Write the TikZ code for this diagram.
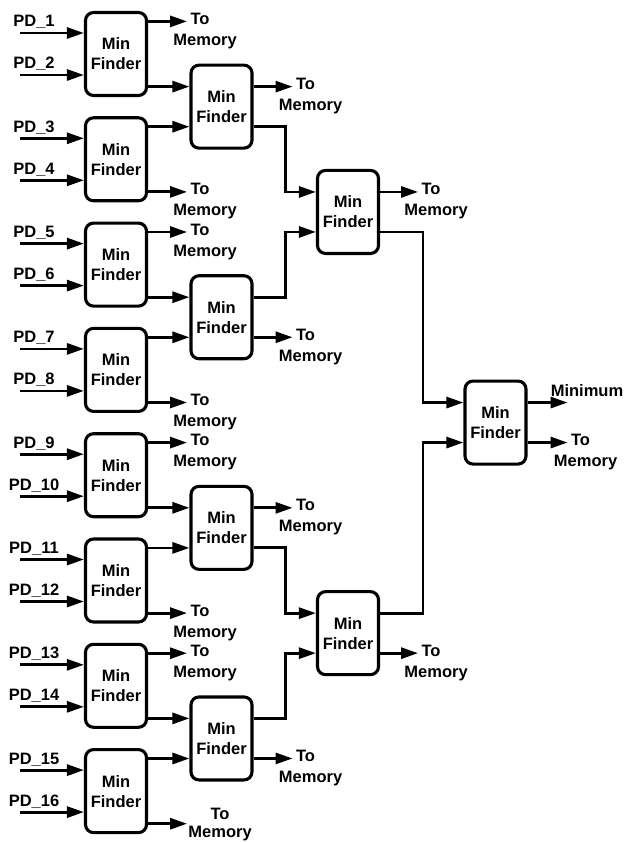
\documentclass[tikz,border=0pt]{standalone}
\usepackage{fontspec}
\setmainfont{Liberation Sans}
\usetikzlibrary{arrows.meta,calc}

\begin{document}
\begin{tikzpicture}[
  x=1pt, y=-1pt,
  every node/.style={font=\bfseries\fontsize{16.5}{20}\selectfont},
  finder/.style={draw, line width=3.1pt, rounded corners=8pt, align=center,
    minimum width=61pt, minimum height=83pt, inner sep=0pt},
  lbl/.style={anchor=base, inner sep=0pt},
  wire/.style={-{Triangle[length=17pt,width=11pt]}, line width=2.8pt}
]
  \useasboundingbox (0,0) rectangle (626,842);

  % first column: inputs PD_1 .. PD_16
  \foreach \k in {1,...,8} {
    \pgfmathsetmacro\yc{54+105.3*(\k-1)}
    \pgfmathtruncatemacro\i{2*\k-1}
    \pgfmathtruncatemacro\j{2*\k}
    \node[finder] (a\k) at (116,\yc) {Min\\Finder};
    \coordinate (in\i) at (20,\yc-21);
    \coordinate (in\j) at (20,\yc+21);
    \draw[wire] (in\i) -- (in\i -| a\k.west);
    \draw[wire] (in\j) -- (in\j -| a\k.west);
    \node[lbl] (pd\i) at ($(in\i)+(14,-6)$) {PD\_\i};
    \node[lbl] (pd\j) at ($(in\j)+(14,-6)$) {PD\_\j};
  }

  % second column
  \node[finder] (b1) at (221.5,106.65) {Min\\Finder};
  \node[finder] (b2) at (221.5,317.25) {Min\\Finder};
  \node[finder] (b3) at (221.5,527.85) {Min\\Finder};
  \node[finder] (b4) at (221.5,738.45) {Min\\Finder};

  \foreach \j in {1,...,4} {
    \pgfmathtruncatemacro\i{2*\j-1}
    \pgfmathtruncatemacro\k{2*\j}
    \draw[wire] ([yshift=-32.6pt]a\i.east) -- ([yshift=-32.6pt]a\i.east -| b\j.west);
    \draw[wire] ([yshift=32.6pt]a\k.east) -- ([yshift=32.6pt]a\k.east -| b\j.west);
    \draw[wire] ([yshift=32.6pt]a\i.east) -- ++(39,0) coordinate (am\i);
    \draw[wire] ([yshift=-32.6pt]a\k.east) -- ++(39,0) coordinate (am\k);
  }

  % third and fourth column
  \node[finder] (c1) at (348,211.95) {Min\\Finder};
  \node[finder] (c2) at (348,633.15) {Min\\Finder};
  \node[finder] (d) at (495.5,422.55) {Min\\Finder};

  \draw[wire] ([yshift=-20pt]b1.east) -- ++(32,0) |- ([yshift=20pt]c1.west);
  \draw[wire] ([yshift=20pt]b2.east) -- ++(32,0) |- ([yshift=-20pt]c1.west);
  \draw[wire] ([yshift=-20pt]b3.east) -- ++(32,0) |- ([yshift=20pt]c2.west);
  \draw[wire] ([yshift=20pt]b4.east) -- ++(32,0) |- ([yshift=-20pt]c2.west);
  \draw[wire] ([yshift=20pt]b1.east) -- ++(39,0) coordinate (bm1);
  \draw[wire] ([yshift=-20pt]b2.east) -- ++(39,0) coordinate (bm2);
  \draw[wire] ([yshift=20pt]b3.east) -- ++(39,0) coordinate (bm3);
  \draw[wire] ([yshift=-20pt]b4.east) -- ++(39,0) coordinate (bm4);

  \draw[wire] ([yshift=-20pt]c1.east) -- ++(43,0) |- ([yshift=20pt]d.west);
  \draw[wire] ([yshift=20pt]c2.east) -- ++(43,0) |- ([yshift=-20pt]d.west);
  \draw[wire] ([yshift=20pt]c1.east) -- ++(38,0) coordinate (cm1);
  \draw[wire] ([yshift=-20pt]c2.east) -- ++(38,0) coordinate (cm2);

  \draw[wire] ([yshift=20pt]d.east) -- ++(40,0) coordinate (dmin);
  \draw[wire] ([yshift=-20pt]d.east) -- ++(40,0) coordinate (dm);
  \node[lbl, anchor=base west] (minlbl) at ($(dmin)+(-17,-6)$) {Minimum};

  % "To Memory" labels
  \foreach \m in {am1,am2,am3,am4,am5,am6,am7,bm1,bm2,bm3,bm4,cm1,cm2,dm} {
    \node[lbl] (lt\m) at ($(\m)+(13,3)$) {To};
    \node[lbl] (lm\m) at ($(lt\m.base)+(5,21)$) {Memory};
  }
  % last one sits lower, text stacked
  \node[lbl] (ltam8) at ($(am8)+(33,-4)$) {To};
  \node[lbl] (lmam8) at ($(ltam8.base)+(0,18)$) {Memory};
\end{tikzpicture}
\end{document}
